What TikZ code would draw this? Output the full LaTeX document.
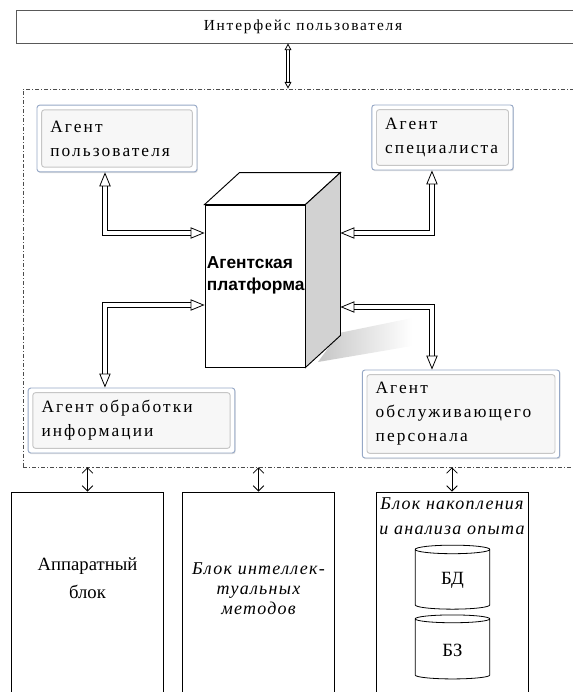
\documentclass[tikz,border=0pt]{standalone}
\usepackage{fontspec}
\setmainfont{Liberation Serif}
\newfontfamily\agfont[LetterSpace=12]{Liberation Serif}
\newfontfamily\blkfont[LetterSpace=7]{Liberation Serif}
\newfontfamily\pffont{Liberation Sans}
\usetikzlibrary{arrows.meta,shapes.geometric,shadows,calc,fadings}

\definecolor{agentline}{RGB}{150,168,198}

\begin{document}
\begin{tikzpicture}[x=0.75pt, y=-0.75pt,
    agent/.style={rectangle, draw=agentline, line width=0.7pt, fill=white, rounded corners=2pt,
      align=left, inner xsep=10pt, font=\agfont\fontsize{13}{18}\selectfont,
      drop shadow={shadow xshift=0.6pt, shadow yshift=-0.9pt, opacity=0.25},
      path picture={\draw[gray!45, fill=gray!6]
        ([shift={(3.5pt,-3.5pt)}]path picture bounding box.north west) rectangle
        ([shift={(-3.5pt,3.5pt)}]path picture bounding box.south east);}},
    unit/.style={rectangle, draw, line width=0.6pt, minimum width=114pt, minimum height=156pt},
    store/.style={cylinder, shape border rotate=90, draw, line width=0.6pt, aspect=0.27,
      minimum width=56pt, minimum height=48pt, font=\fontsize{14}{16}\selectfont},
    blockarrow/.style={double=white, double distance=3pt, line width=0.6pt,
      {Triangle[open, length=10.5pt, width=8.5pt]}-{Triangle[open, length=10.5pt, width=8.5pt]}},
    thinarrow/.style={double=white, double distance=1.6pt, line width=0.6pt,
      {Triangle[open, length=5pt, width=5pt]}-{Triangle[open, length=5pt, width=5pt]}},
    link/.style={line width=0.6pt, {Straight Barb[length=4pt, width=8pt]}-{Straight Barb[length=4pt, width=8pt]}}
  ]
  \useasboundingbox (0,0) rectangle (572,692);

  % User interface
  \node[rectangle, draw=gray!70!black, line width=0.6pt, minimum width=460pt, minimum height=24.75pt,
        font=\agfont\fontsize{11.5}{13}\selectfont] (iface) at (323,26.5) {\hspace*{-30pt}Интерфейс пользователя};

  % Multi-agent frame
  \node[rectangle, draw=gray!60!black, line width=0.5pt,
        dash pattern=on 3pt off 1.5pt on 0.8pt off 1.5pt,
        minimum width=418.5pt, minimum height=283.5pt, inner sep=0pt] (mas) at (302,278) {};
  \coordinate (ifport) at (288,0 |- iface.south);
  \draw[thinarrow] (ifport) -- (ifport |- mas.north);

  % Shadow of the platform
  \fill[gray!45, path fading=east] (339,333) -- (412,318) -- (412,346) -- (318,362) -- cycle;

  % Agents
  \node[agent, text width=100pt, minimum height=50pt] (agUser) at (117,138.5) {Агент\\пользователя};
  \node[agent, text width=86pt, minimum height=48.75pt] (agSpec) at (442.5,137.5) {Агент\\специалиста};
  \node[agent, text width=135pt, minimum height=48.75pt] (agProc) at (131.5,420.5) {Агент обработки\\информации};
  \node[agent, text width=128pt, minimum height=66pt] (agStaff) at (461,414) {Агент\\обслуживающего\\персонала};

  % Agent platform (box)
  \node[rectangle, draw, line width=0.7pt, fill=white, minimum width=75pt, minimum height=121.5pt] (platform) at (255,286) {};
  \draw[line width=0.7pt, fill=white] (platform.north west) -- ++(35,-32) -- ($(platform.north east)+(35,-32)$)
    -- (platform.north east) -- cycle;
  \draw[line width=0.7pt, fill=gray!35] (platform.north east) -- ++(35,-32) -- ($(platform.south east)+(35,-32)$)
    -- (platform.south east) -- cycle;
  \coordinate (pfback) at ($(platform.east)+(35,-32)$);
  \node[anchor=west, align=left, inner sep=1pt, font=\pffont\bfseries\fontsize{13}{16.5}\selectfont] (pflabel)
    at ([shift={(0.5pt,8pt)}]platform.west) {Агентская\\платформа};

  % Agent links
  \draw[blockarrow] ([xshift=-9pt]agUser.south) |- ([yshift=39.75pt]platform.west);
  \draw[blockarrow] ([xshift=-7.9pt]agSpec.south) |- ([yshift=15.75pt]pfback);
  \draw[blockarrow] ([yshift=-14.25pt]platform.west) -| ([xshift=-19.9pt]agProc.north);
  \draw[blockarrow] ([yshift=-39.75pt]pfback) -| ([xshift=-21.75pt]agStaff.north);

  % Lower blocks
  \node[unit] (hw) at (87.5,596) {};
  \node[unit] (methods) at (258.5,596) {};
  \node[unit] (exper) at (452,596) {};
  \node[align=center, font=\fontsize{14}{21}\selectfont] (hwtext) at (87.5,578) {Аппаратный\\блок};
  \node[align=center, font=\blkfont\itshape\fontsize{13.5}{15}\selectfont] (methodstext) at (258.5,589) {Блок интеллек-\\туальных\\методов};
  \node[align=center, font=\blkfont\itshape\fontsize{13.5}{18.75}\selectfont] (expertext) at (452,516) {Блок накопления\\и анализа опыта};
  \node[store] (db) at (452.5,580.5) {БД};
  \node[store] (kb) at (452.5,650) {БЗ};

  \draw[link] (hw.north |- mas.south) -- (hw.north);
  \draw[link] (methods.north |- mas.south) -- (methods.north);
  \draw[link] (exper.north |- mas.south) -- (exper.north);
\end{tikzpicture}
\end{document}
